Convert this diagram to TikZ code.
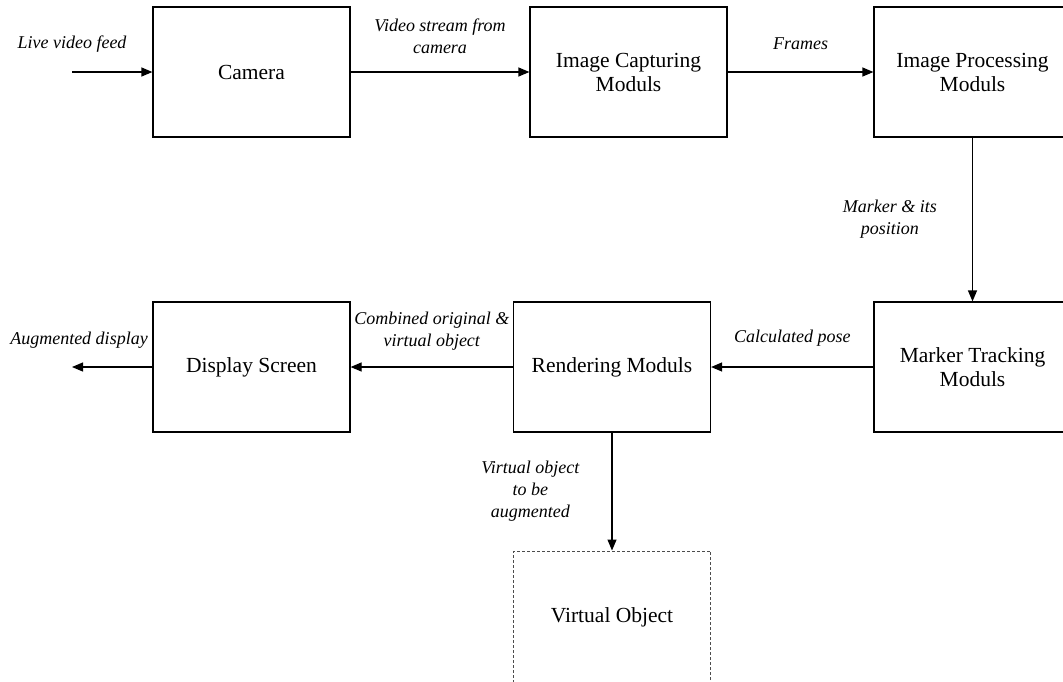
\documentclass[tikz,border=0pt]{standalone}
\usepackage{fontspec}
\setmainfont{Liberation Serif}
\usetikzlibrary{arrows.meta}

\begin{document}
\begin{tikzpicture}
[x=1pt, y=-1pt, line width=1.2pt,
block/.style={rectangle,draw,minimum width=197pt,minimum height=130pt,align=center,font=\fontsize{21.5}{24}\selectfont},
flow/.style={-{Triangle[length=11pt,width=9pt]}},
flowlabel/.style={font=\fontsize{18}{22}\selectfont\itshape,align=center,inner sep=0pt}]
\clip (0,0) rectangle (1063,681);
\node[block] (cam) at (251.5,72) {Camera};
\node[block] (capture) at (628.5,72) {Image Capturing\\Moduls};
\node[block] (process) at (972.5,72) {Image Processing\\Moduls};
\node[block] (track) at (972.5,367) {Marker Tracking\\Moduls};
\node[block] (render) at (612,367) {Rendering Moduls};
\node[block] (screen) at (251.5,367) {Display Screen};
\node[block, draw=black!70, line width=1pt, dash pattern=on 3pt off 2pt, minimum height=132pt] (virtual) at (612,617) {Virtual Object};
\coordinate (feed) at (72,72);
\coordinate (shown) at (72,367);

\draw[flow] (feed) -- node[flowlabel, pos=0, yshift=28pt] {Live video feed} (cam);
\draw[flow] (cam) -- node[flowlabel, midway, yshift=35.5pt] {Video stream from\\camera} (capture);
\draw[flow] (capture) -- node[flowlabel, midway, yshift=28pt] {Frames} (process);
\draw[flow] (process) -- node[flowlabel, midway, left=35pt] {Marker \& its\\position} (track);

\draw[flow] (track) -- node[flowlabel, midway, yshift=29pt] {Calculated pose} (render);
\draw[flow] (render) -- node[flowlabel, midway, yshift=35.5pt] {Combined original \&\\virtual object} (screen);
\draw[flow] (screen) -- node[flowlabel, pos=1, xshift=7pt, yshift=27pt] {Augmented display} (shown);
\draw[flow] (render) -- node[flowlabel, midway, left=32pt] {Virtual object\\to be\\augmented} (virtual);
\end{tikzpicture}
\end{document}
